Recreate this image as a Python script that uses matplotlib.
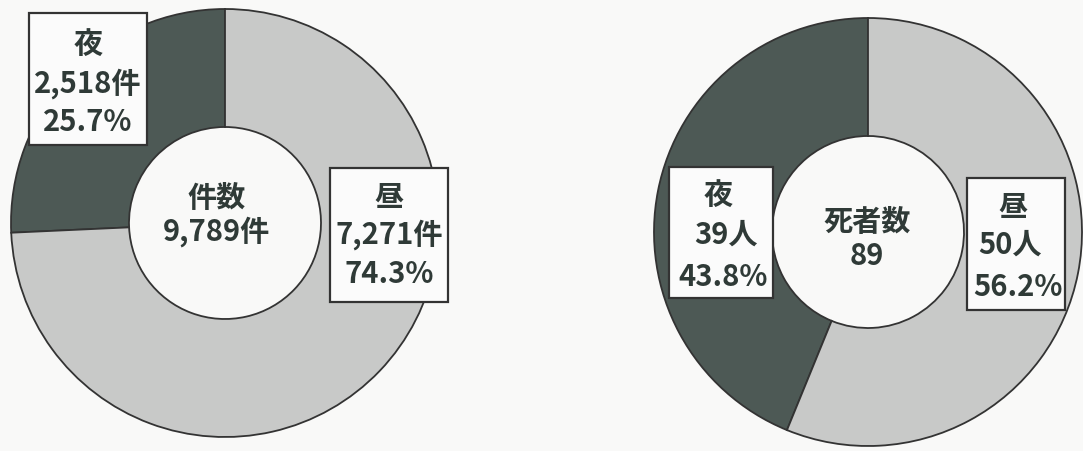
import matplotlib
matplotlib.use("Agg")
import matplotlib.pyplot as plt
from matplotlib.patches import Rectangle

plt.rcParams['font.family'] = ['Noto Sans CJK JP', 'DejaVu Sans']

# ---- data ----
periods = ['夜', '昼']
case_counts = [2518, 7271]
case_pcts = [25.7, 74.3]
case_unit = '件'
case_title = '件数'
death_counts = [39, 50]
death_pcts = [43.8, 56.2]
death_unit = '人'
death_title = '死者数'

# ---- style ----
W, H = 1083, 451
DARK = '#4d5955'
LIGHT = '#c8c9c8'
EDGE = '#333333'
TXT = '#2f3a37'
BG = '#f9f9f8'
FS = 21

fig = plt.figure(figsize=(W / 100, H / 100), dpi=100, facecolor=BG)
ax = fig.add_axes([0, 0, 1, 1])
ax.set_facecolor(BG)

R_OUT = 214
R_IN = 96


def py(y):
    return H - y


def donut(cx, cy, values):
    ax.pie(values, colors=[DARK, LIGHT], startangle=90, counterclock=True,
           center=(cx, py(cy)), radius=R_OUT,
           wedgeprops=dict(width=R_OUT - R_IN, edgecolor=EDGE, linewidth=1.3),
           frame=True)


def label(tx, ty, s, z=6):
    ax.text(tx, py(ty), s, ha='center', va='center', fontsize=FS,
            fontweight='bold', color=TXT, zorder=z)


def box(x0, y0, x1, y1, lines):
    ax.add_patch(Rectangle((x0, py(y1)), x1 - x0, y1 - y0, facecolor='#fbfbfb',
                           edgecolor=EDGE, linewidth=1.6, zorder=5))
    for (tx, ty, s) in lines:
        label(tx, ty, s)


# left donut: cases
donut(225, 223, case_counts)
label(217, 198, case_title)
label(217, 232, f'{sum(case_counts):,}{case_unit}')
box(29, 13, 147, 145, [
    (88, 44, periods[0]),
    (88, 84, f'{case_counts[0]:,}{case_unit}'),
    (88, 122, f'{case_pcts[0]}%'),
])
box(330, 168, 448, 302, [
    (389, 197, periods[1]),
    (389, 235, f'{case_counts[1]:,}{case_unit}'),
    (389, 274, f'{case_pcts[1]}%'),
])

# right donut: deaths
donut(868, 232, death_counts)
label(867, 222, death_title)
label(867, 256, f'{sum(death_counts)}')
box(669, 167, 773, 298, [
    (718, 195, periods[0]),
    (726, 235, f'{death_counts[0]}{death_unit}'),
    (723, 277, f'{death_pcts[0]}%'),
])
box(967, 178, 1065, 310, [
    (1013, 207, periods[1]),
    (1010, 245, f'{death_counts[1]}{death_unit}'),
    (1018, 287, f'{death_pcts[1]}%'),
])

ax.set_xlim(0, W)
ax.set_ylim(0, H)
ax.set_aspect('equal')
ax.axis('off')

fig.savefig('out.png', dpi=100, facecolor=BG)
